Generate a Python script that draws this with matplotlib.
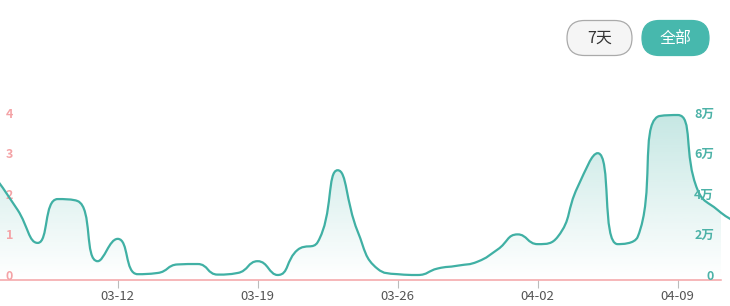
import datetime as dt
import numpy as np
import matplotlib
matplotlib.use("Agg")
import matplotlib.pyplot as plt
from matplotlib.path import Path
from matplotlib.patches import PathPatch, FancyBboxPatch

plt.rcParams['font.family'] = ['Noto Sans CJK SC', 'DejaVu Sans']

# daily values (unit: 2万), 03-06 .. 04-12
start = dt.date(2023, 3, 6)
values = [2.32, 1.60, 0.79, 1.87, 1.82, 0.34, 0.89, 0.02, 0.05, 0.26,
          0.27, 0.01, 0.05, 0.34, 0.00, 0.62, 0.81, 2.58, 1.07, 0.15,
          0.02, 0.00, 0.16, 0.23, 0.33, 0.63, 1.00, 0.76, 0.94, 2.17,
          3.00, 0.76, 0.94, 3.90, 3.94, 2.09, 1.60, 1.26]
dates = [start + dt.timedelta(days=i) for i in range(len(values))]
tick_idx = [6, 13, 20, 27, 34]
tick_labels = [dates[i].strftime("%m-%d") for i in tick_idx]
left_ticks = [0, 1, 2, 3, 4]
right_ticks = [0, 2, 4, 6, 8]
right_labels = ["0", "2万", "4万", "6万", "8万"]

LINE = "#40b0a4"
PINK = "#f4a3a6"


def smooth_path(xs, ys, smooth=0.5, sx=20.0, sy=40.6):
    # smoothed bezier, control points kept between neighbouring points
    px = np.asarray(xs, float) * sx
    py = np.asarray(ys, float) * sy
    n = len(px)
    verts = [(px[0], py[0])]
    codes = [Path.MOVETO]
    cpx0, cpy0 = px[0], py[0]
    for i in range(1, n):
        x, y = px[i], py[i]
        prx, pry = px[i - 1], py[i - 1]
        nx, ny = (px[i + 1], py[i + 1]) if i + 1 < n else (x, y)
        vx, vy = nx - prx, ny - pry
        l0 = np.hypot(x - prx, y - pry)
        l1 = np.hypot(nx - x, ny - y)
        r = l1 / (l0 + l1) if (l0 + l1) > 0 else 0.5
        ncx = x + vx * smooth * r
        ncy = y + vy * smooth * r
        ncx = min(max(ncx, min(nx, x)), max(nx, x))
        ncy = min(max(ncy, min(ny, y)), max(ny, y))
        if l1 > 0:
            vx, vy = ncx - x, ncy - y
            cx1 = x - vx * l0 / l1
            cy1 = y - vy * l0 / l1
        else:
            cx1 = x - (nx - prx) * smooth * (1 - r)
            cy1 = y - (ny - pry) * smooth * (1 - r)
        cx1 = min(max(cx1, min(prx, x)), max(prx, x))
        cy1 = min(max(cy1, min(pry, y)), max(pry, y))
        if l0 > 0 and l1 > 0:
            vx, vy = x - cx1, y - cy1
            ncx = x + vx * l1 / l0
            ncy = y + vy * l1 / l0
        verts += [(cpx0, cpy0), (cx1, cy1), (x, y)]
        codes += [Path.CURVE4] * 3
        cpx0, cpy0 = ncx, ncy
    verts = [(a / sx, b / sy) for a, b in verts]
    return verts, codes


fig = plt.figure(figsize=(7.3, 3.06), dpi=100)
ax = fig.add_axes([0, 26.5 / 306, 721 / 730, 179.5 / 306])
ylo, yhi = -0.111, 4.31
ax.set_xlim(0.115, 36.165)
ax.set_ylim(ylo, yhi)

xs = np.arange(len(values))
verts, codes = smooth_path(xs, values)

# gradient area
fill_verts = verts + [(xs[-1], ylo), (xs[0], ylo), (xs[0], ylo)]
fill_codes = codes + [Path.LINETO, Path.LINETO, Path.CLOSEPOLY]
area = PathPatch(Path(fill_verts, fill_codes), facecolor="none", edgecolor="none")
ax.add_patch(area)
grad = np.zeros((256, 1, 4))
grad[..., 0] = 64 / 255
grad[..., 1] = 176 / 255
grad[..., 2] = 164 / 255
grad[:, 0, 3] = np.linspace(0.30, 0.0, 256)
im = ax.imshow(grad, extent=[xs[0], xs[-1], ylo, max(values)], aspect="auto",
               origin="upper", zorder=1)
im.set_clip_path(area)

line = PathPatch(Path(verts, codes), facecolor="none", edgecolor=LINE,
                 linewidth=1.6, zorder=3, clip_on=False)
ax.add_patch(line)

for s in ["top", "left", "right"]:
    ax.spines[s].set_visible(False)
ax.spines["bottom"].set_color(PINK)
ax.spines["bottom"].set_linewidth(1.1)

ax.set_xticks(tick_idx)
ax.set_xticklabels(tick_labels)
ax.tick_params(axis="x", length=6, width=0.8, color="#bbbbbb", pad=1.5,
               labelsize=9.5, labelcolor="#555555")

ax.set_yticks(left_ticks)
ax.set_yticklabels([str(t) for t in left_ticks])
ax.tick_params(axis="y", length=0, pad=-9.4, labelsize=9, labelcolor=PINK)
for lb in ax.get_yticklabels():
    lb.set_fontweight("bold")

ax2 = ax.twinx()
ax2.set_ylim(2 * ylo, 2 * yhi)
ax2.set_yticks(right_ticks)
ax2.set_yticklabels(right_labels)
ax2.tick_params(axis="y", length=0, pad=-5, labelsize=9, labelcolor="#4cb2a7")
for lb in ax2.get_yticklabels():
    lb.set_fontweight("bold")
    lb.set_ha("right")
for s in ax2.spines.values():
    s.set_visible(False)

# buttons
oax = fig.add_axes([0, 0, 1, 1], zorder=5)
oax.set_xlim(0, 730)
oax.set_ylim(306, 0)
oax.axis("off")
oax.add_patch(FancyBboxPatch((567, 20.5), 65, 35, boxstyle="round,pad=0,rounding_size=17.5",
                             facecolor="#f5f5f5", edgecolor="#aaaaaa", linewidth=0.9))
oax.add_patch(FancyBboxPatch((642, 20.5), 67, 35, boxstyle="round,pad=0,rounding_size=17.5",
                             facecolor="#47b8ad", edgecolor="#47b8ad", linewidth=0.9))
oax.text(599.5, 38, "7天", ha="center", va="center", fontsize=11.5, color="#333333")
oax.text(675.5, 38, "全部", ha="center", va="center", fontsize=11.5, color="white")

fig.savefig("out.png", dpi=100)
